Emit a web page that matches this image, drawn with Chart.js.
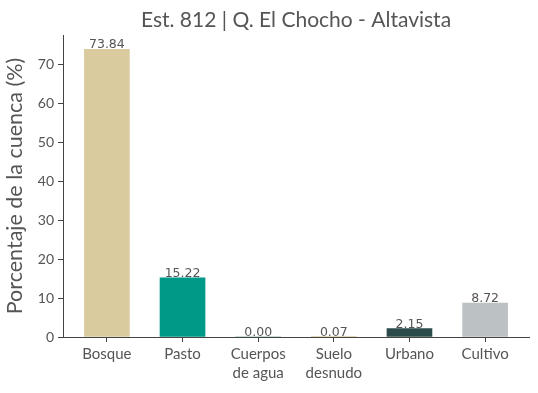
<!DOCTYPE html>
<html>
<head>
<meta charset="utf-8">
<script src="https://cdn.jsdelivr.net/npm/chart.js@4"></script>
<style>
  html, body { margin: 0; padding: 0; background: #fff; }
  #wrap { width: 538px; height: 393px; }
</style>
</head>
<body>
<div id="wrap"><canvas id="chart" width="538" height="393"></canvas></div>
<script>
const categories = [["Bosque"], ["Pasto"], ["Cuerpos", "de agua"], ["Suelo", "desnudo"], ["Urbano"], ["Cultivo"]];
const values = [73.84, 15.22, 0.00, 0.07, 2.15, 8.72];
const barColors = ["#d9cb9e", "#009886", "#1d6b63", "#d9cb9e", "#2b4c4a", "#bcc1c4"];
const yTicks = [0, 10, 20, 30, 40, 50, 60, 70];
const titleText = "Est. 812 | Q. El Chocho - Altavista";

const axisColor = "#444";
const textColor = "#555";

// title centred over the plot area, like the original
const titlePlugin = {
    id: "plotTitle",
    afterDraw: (chart) => {
        const ctx = chart.ctx;
        const area = chart.chartArea;
        ctx.save();
        ctx.font = "21px Lato";
        ctx.fillStyle = textColor;
        ctx.textAlign = "center";
        ctx.textBaseline = "middle";
        ctx.fillText(titleText, (area.left + area.right) / 2, 20);
        ctx.restore();
    }
};

// value labels above each bar
const valueLabels = {
    id: "valueLabels",
    afterDatasetsDraw: (chart) => {
        const ctx = chart.ctx;
        const meta = chart.getDatasetMeta(0);
        ctx.save();
        ctx.font = "12.5px 'DejaVu Sans'";
        ctx.fillStyle = textColor;
        ctx.textAlign = "center";
        ctx.textBaseline = "bottom";
        meta.data.forEach((bar, i) => {
            ctx.fillText(values[i].toFixed(2), bar.x, bar.y + 2);
        });
        ctx.restore();
    }
};

new Chart(document.getElementById("chart"), {
    type: "bar",
    data: {
        datasets: [{
            data: values.map((v, i) => ({ x: i, y: v })),
            backgroundColor: barColors,
            barThickness: 45
        }]
    },
    options: {
        responsive: false,
        animation: false,
        layout: { padding: { top: 35, right: 9, left: 0, bottom: 0 } },
        plugins: { legend: { display: false }, tooltip: { enabled: false } },
        scales: {
            x: {
                type: "linear",
                min: -0.58,
                max: 5.58,
                offset: false,
                afterBuildTicks: (scale) => { scale.ticks = categories.map((c, i) => ({ value: i })); },
                afterFit: (scale) => { scale.height = 56; },
                ticks: {
                    autoSkip: false,
                    maxRotation: 0,
                    padding: 3,
                    color: textColor,
                    font: { family: "Lato", size: 15, lineHeight: 1.25 },
                    callback: (v) => categories[v]
                },
                grid: { offset: false, drawOnChartArea: false, tickLength: 5, color: axisColor, tickColor: axisColor },
                border: { color: axisColor, width: 1 }
            },
            y: {
                min: 0,
                max: 77.53,
                afterBuildTicks: (scale) => { scale.ticks = yTicks.map(v => ({ value: v })); },
                afterFit: (scale) => { scale.width = 63; },
                ticks: {
                    padding: 4,
                    color: textColor,
                    font: { family: "Lato", size: 14 }
                },
                title: {
                    display: true,
                    text: "Porcentaje de la cuenca (%)",
                    color: textColor,
                    font: { family: "Lato", size: 21.5 },
                    padding: { top: 2, bottom: 0 }
                },
                grid: { drawOnChartArea: false, tickLength: 5, color: axisColor, tickColor: axisColor },
                border: { color: axisColor, width: 1 }
            }
        }
    },
    plugins: [titlePlugin, valueLabels]
});
</script>
</body>
</html>
